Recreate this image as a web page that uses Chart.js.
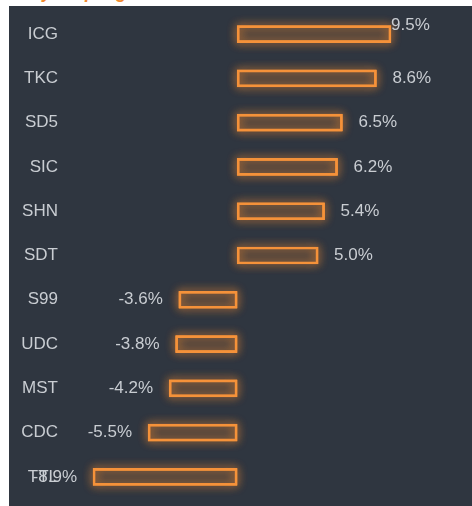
<!DOCTYPE html>
<html>
<head>
<meta charset="utf-8">
<script src="https://cdn.jsdelivr.net/npm/chart.js@4/dist/chart.umd.min.js"></script>
<style>
  html, body { margin: 0; padding: 0; background: #ffffff; width: 472px; height: 506px; overflow: hidden; }
  #title { position: absolute; left: 9px; top: -17px; margin: 0; font: italic bold 18px "Liberation Sans", Arial, sans-serif; color: #f28a2e; white-space: nowrap; line-height: 18px; }
  #box { position: absolute; left: 9px; top: 6px; width: 463px; height: 500px; background: #2f3640; }
</style>
</head>
<body>
<div id="title">Daily - top 5 gainers</div>
<div id="box"><canvas id="c"></canvas></div>
<script>
const categories = ["ICG", "TKC", "SD5", "SIC", "SHN", "SDT", "S99", "UDC", "MST", "CDC", "TTL"];
const changePct = [9.5, 8.6, 6.5, 6.2, 5.4, 5.0, -3.6, -3.8, -4.2, -5.5, -8.9];
const valueLabels = ["9.5%", "8.6%", "6.5%", "6.2%", "5.4%", "5.0%", "-3.6%", "-3.8%", "-4.2%", "-5.5%", "-8.9%"];

const ORANGE = "#f5923a";
const TEXT = "#c9cdd2";
const FONT = '17px "Liberation Sans", Arial, sans-serif';

// Glow behind each bar, drawn from the bar elements the library laid out
const glowPlugin = {
  id: "glow",
  beforeDatasetsDraw(chart) {
    const ctx = chart.ctx;
    const meta = chart.getDatasetMeta(0);
    ctx.save();
    meta.data.forEach((bar) => {
      const p = bar.getProps(["x", "y", "base", "height"], true);
      const left = Math.min(p.x, p.base);
      const w = Math.abs(p.x - p.base);
      const top = p.y - p.height / 2;
      ctx.shadowColor = "rgba(245,140,50,0.95)";
      ctx.shadowBlur = 10;
      ctx.strokeStyle = "rgba(245,146,58,0.9)";
      ctx.lineWidth = 2;
      for (let k = 0; k < 2; k++) {
        ctx.strokeRect(left + 1, top + 1, w - 2, p.height - 2);
      }
    });
    ctx.restore();
  }
};

const labelPlugin = {
  id: "valueLabels",
  afterDatasetsDraw(chart) {
    const ctx = chart.ctx;
    const meta = chart.getDatasetMeta(0);
    const xs = chart.scales.x;
    ctx.save();
    ctx.font = FONT;
    ctx.fillStyle = TEXT;
    ctx.textBaseline = "middle";
    meta.data.forEach((bar, i) => {
      const v = changePct[i];
      const txt = valueLabels[i];
      if (v >= 0) {
        ctx.textAlign = "left";
        if (v >= xs.max) {
          ctx.fillText(txt, bar.x, bar.y - 8.5);
        } else {
          ctx.fillText(txt, bar.x + 16, bar.y);
        }
      } else {
        ctx.textAlign = "right";
        ctx.fillText(txt, bar.x - 16, bar.y);
      }
    });
    ctx.restore();
  }
};

new Chart(document.getElementById("c"), {
  type: "bar",
  data: {
    labels: categories,
    datasets: [{
      data: changePct,
      backgroundColor: "rgba(245,146,58,0.09)",
      borderColor: ORANGE,
      borderWidth: 2,
      borderSkipped: false,
      barThickness: 17,
      clip: false
    }]
  },
  options: {
    indexAxis: "y",
    responsive: true,
    maintainAspectRatio: false,
    animation: false,
    layout: { padding: { left: 0, right: 81, top: 6, bottom: 7 } },
    plugins: { legend: { display: false }, tooltip: { enabled: false }, title: { display: false } },
    scales: {
      x: { display: false, min: -8.9, max: 9.5 },
      y: {
        grid: { display: false, drawTicks: false },
        border: { display: false },
        ticks: { color: TEXT, font: { family: '"Liberation Sans", Arial, sans-serif', size: 17 }, padding: 35 },
        afterFit(scale) {
          scale.width = 84;
          scale.paddingTop = 0;
          scale.paddingBottom = 0;
        }
      }
    }
  },
  plugins: [glowPlugin, labelPlugin]
});
</script>
</body>
</html>
